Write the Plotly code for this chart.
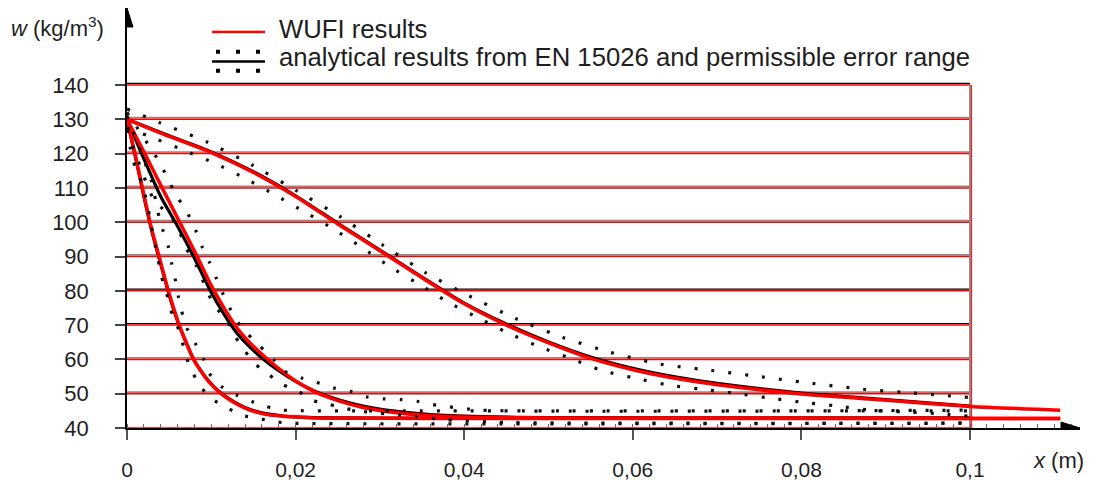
import plotly.graph_objects as go

# ---------------------------------------------------------------------------
# Moisture content profiles w(x): x in m, w in kg/m3
# Three profiles (short, medium, long exposure); for each one the WUFI result,
# the analytical EN 15026 solution and the upper / lower permissible limits.
# ---------------------------------------------------------------------------

# Profile 1 (steepest)
x_wufi_1 = [0, 0.001, 0.002, 0.003, 0.004, 0.005, 0.0062, 0.0071, 0.0079, 0.0088, 0.0098,
            0.011, 0.0125, 0.014, 0.016, 0.0185, 0.0215, 0.026, 0.035, 0.06, 0.1107]
w_wufi_1 = [130, 119.5, 108, 97.3, 88.2, 79.2, 70, 64.5, 60, 56.5, 53.2, 50.3, 47.7, 45.8,
            44.2, 43.4, 43.0, 42.85, 42.8, 42.8, 42.8]
x_an_1 = [0, 0.001, 0.002, 0.003, 0.004, 0.005, 0.0062, 0.0071, 0.0079, 0.0088, 0.0098,
          0.011, 0.0125, 0.014, 0.016, 0.0185, 0.0215, 0.026, 0.035, 0.06, 0.1]
w_an_1 = [130, 119, 107.5, 96.8, 87.8, 78.8, 69.8, 64.4, 60, 56.6, 53.4, 50.5, 47.9, 46.0,
          44.4, 43.5, 43.1, 42.95, 42.9, 42.9, 42.9]
x_up_1 = [0, 0.0029, 0.0038, 0.0043, 0.0049, 0.0053, 0.0057, 0.0061, 0.0065, 0.0071, 0.0081,
          0.0091, 0.0098, 0.0112, 0.0130, 0.0148, 0.0166, 0.0185, 0.03, 0.1]
w_up_1 = [131, 112, 101.5, 97.3, 92.9, 88, 83.6, 78.3, 73.9, 69.1, 64.7, 60, 55.8, 52.1,
          49.6, 47.7, 46.2, 45.2, 45.0, 45.0]
x_lo_1 = [0, 0.0007, 0.0015, 0.0021, 0.0025, 0.0029, 0.0033, 0.0037, 0.0041, 0.0047, 0.0051,
          0.0059, 0.0065, 0.0070, 0.0077, 0.0087, 0.0100, 0.0118, 0.0136, 0.0156, 0.0176,
          0.0195, 0.1]
w_lo_1 = [127, 118, 113.3, 108.4, 104, 98.7, 93.9, 89, 84.1, 79.3, 74.9, 70.3, 65.6, 60.9,
          56.6, 52.1, 48.6, 46.0, 43.7, 42.8, 41.8, 41.4, 41.4]

# Profile 2
x_wufi_2 = [0, 0.002, 0.004, 0.006, 0.008, 0.010, 0.0115, 0.013, 0.0145, 0.016, 0.018, 0.02,
            0.0225, 0.025, 0.028, 0.0315, 0.036, 0.042, 0.05, 0.065, 0.1107]
w_wufi_2 = [130, 120.5, 110.8, 101.2, 91.6, 81.5, 75, 69.3, 65, 61.5, 57.3, 53.7, 50.3, 48.0,
            46.0, 44.6, 43.6, 43.1, 42.9, 42.85, 42.8]
x_an_2 = [0, 0.002, 0.004, 0.006, 0.008, 0.010, 0.0115, 0.013, 0.0145, 0.016, 0.018, 0.02,
          0.0225, 0.025, 0.028, 0.0315, 0.036, 0.042, 0.05, 0.065, 0.1]
w_an_2 = [130, 118.5, 107.5, 98.8, 89.5, 79.5, 73.2, 67.8, 63.8, 60.4, 56.7, 53.6, 50.5,
          48.3, 46.4, 45.0, 43.9, 43.3, 43.0, 42.9, 42.9]
x_up_2 = [0, 0.0035, 0.0045, 0.0055, 0.0074, 0.0082, 0.0089, 0.0098, 0.0106, 0.0114, 0.0122,
          0.0136, 0.0158, 0.0174, 0.0187, 0.0207, 0.0225, 0.0245, 0.0265, 0.0284, 0.0304,
          0.0324, 0.0344, 0.0363, 0.042, 0.1]
w_up_2 = [132, 118.9, 114.4, 109.4, 101.6, 97.3, 92.9, 88.2, 83.6, 79.0, 74.9, 69.2, 63.8,
          59.9, 56.5, 54.6, 53.3, 51.7, 50.7, 49.1, 48.5, 48.3, 47.8, 46.8, 45.2, 45.2]
x_lo_2 = [0, 0.0031, 0.0054, 0.0063, 0.0071, 0.0082, 0.0089, 0.0096, 0.0106, 0.0118, 0.0128,
          0.0140, 0.0153, 0.0169, 0.0185, 0.0203, 0.0221, 0.0241, 0.0261, 0.0280, 0.033,
          0.038, 0.045, 0.1]
w_lo_2 = [127, 107, 100.9, 96.8, 92.1, 87.5, 83.6, 79.3, 74.9, 71.7, 66.8, 62.4, 58.5, 55.4,
          52.6, 50.7, 48.0, 46.8, 45.6, 44.8, 43.6, 42.4, 41.6, 41.4]

# Profile 3 (flattest)
x_wufi_3 = [0, 0.005, 0.01, 0.015, 0.02, 0.025, 0.03, 0.035, 0.04, 0.045, 0.05, 0.055, 0.06,
            0.065, 0.07, 0.08, 0.09, 0.1, 0.1107]
w_wufi_3 = [130, 125, 120.3, 114.5, 107.5, 99.5, 91.7, 83.8, 76.2, 70, 64.8, 60.3, 57, 54.5,
            52.6, 49.9, 48.1, 46.3, 45.2]
x_an_3 = [0, 0.005, 0.01, 0.015, 0.02, 0.025, 0.03, 0.035, 0.04, 0.045, 0.05, 0.055, 0.06,
          0.065, 0.07, 0.08, 0.09, 0.1]
w_an_3 = [130, 125.2, 120.5, 114.7, 107.7, 99.7, 91.9, 84.0, 76.4, 70.3, 65.1, 60.7, 57.4,
          54.9, 53.0, 50.2, 48.3, 46.4]
x_up_3 = [0, 0.0039, 0.0095, 0.0149, 0.0201, 0.0253, 0.0303, 0.0354, 0.0406, 0.0461, 0.0517,
          0.0574, 0.0633, 0.0693, 0.0753, 0.0813, 0.0873, 0.0932, 0.1]
w_up_3 = [133, 129, 123.4, 116.6, 109.2, 101.6, 93.4, 85.3, 78.5, 71.9, 66.4, 62.0, 58.6,
          56.8, 54.9, 53.0, 51.3, 50.2, 48.9]
x_lo_3 = [0, 0.0029, 0.0067, 0.0104, 0.0140, 0.0176, 0.0210, 0.0245, 0.0279, 0.0312, 0.0346,
          0.0380, 0.0416, 0.0451, 0.0489, 0.0526, 0.0564, 0.0603, 0.0643, 0.0682, 0.0722,
          0.0763, 0.0802, 0.0842, 0.0883, 0.0921, 0.0961, 0.1]
w_lo_3 = [127.5, 124.8, 121, 117.2, 112.8, 107.9, 103.1, 98, 92.6, 87, 82, 76.8, 72.2, 67.8,
          63.7, 60.3, 56.7, 54.5, 52.5, 51.3, 50.1, 48.7, 47.5, 46.4, 45.2, 44.7, 44.2, 43.4]

# Axis ticks
x_ticks = [0, 0.02, 0.04, 0.06, 0.08, 0.1]
x_ticktext = ["0", "0,02", "0,04", "0,06", "0,08", "0,1"]
y_ticks = [40, 50, 60, 70, 80, 90, 100, 110, 120, 130, 140]
y_ticktext = [str(v) for v in y_ticks]

legend_wufi = "WUFI results"
legend_analytical = "analytical results from EN 15026 and permissible error range"

# ---------------------------------------------------------------------------
FONT = "Liberation Sans, Arial, sans-serif"
TXT = "#1e1e1e"
RED = "#ff0000"

fig = go.Figure()

profiles = [
    (x_wufi_1, w_wufi_1, x_an_1, w_an_1, x_up_1, w_up_1, x_lo_1, w_lo_1),
    (x_wufi_2, w_wufi_2, x_an_2, w_an_2, x_up_2, w_up_2, x_lo_2, w_lo_2),
    (x_wufi_3, w_wufi_3, x_an_3, w_an_3, x_up_3, w_up_3, x_lo_3, w_lo_3),
]

# analytical solutions (black), below the WUFI curves
for p in profiles:
    fig.add_trace(go.Scatter(x=p[2], y=p[3], mode="lines",
                             line=dict(color="black", width=3.2, shape="spline", smoothing=0.6),
                             hoverinfo="skip"))
# WUFI results (red)
for p in profiles:
    fig.add_trace(go.Scatter(x=p[0], y=p[1], mode="lines",
                             line=dict(color=RED, width=3.5, shape="spline", smoothing=0.6),
                             hoverinfo="skip", cliponaxis=False))
# permissible error range (dotted)
for p in profiles:
    for xs, ws in ((p[4], p[5]), (p[6], p[7])):
        fig.add_trace(go.Scatter(x=xs, y=ws, mode="lines",
                                 line=dict(color="#111111", width=3.2, dash="3px,14px",
                                           shape="spline", smoothing=0.5),
                                 hoverinfo="skip"))

shapes = []
# horizontal grid: red line with a dark line just above it
dark = {140: "#000000", 80: "#000000", 70: "#000000"}
for v in y_ticks:
    if v != y_ticks[0]:
        shapes.append(dict(type="line", xref="x", yref="y", ysizemode="pixel", yanchor=v,
                           x0=0, x1=0.1, y0=1.6, y1=1.6, layer="below",
                           line=dict(color=dark.get(v, "#8a8a8a"), width=1.2 if v in dark else 1.7)))
    shapes.append(dict(type="line", xref="x", yref="y", x0=0, x1=0.1, y0=v, y1=v, layer="below",
                       line=dict(color=RED, width=1.5)))
# right border of the grid at x = 0.1
shapes.append(dict(type="line", xref="x", yref="y", x0=0.1, x1=0.1, y0=40, y1=140, layer="below",
                   line=dict(color="#8a8a8a", width=2)))
shapes.append(dict(type="line", xref="x", yref="y", xsizemode="pixel", xanchor=0.1,
                   x0=1.6, x1=1.6, y0=40, y1=140, layer="below", line=dict(color=RED, width=1)))
# axis arrow heads
shapes.append(dict(type="path", xref="x", yref="paper", xsizemode="pixel", ysizemode="pixel",
                   xanchor=0, yanchor=1, path="M 0 0 L -6 -19 L 6 -19 Z",
                   fillcolor="black", line=dict(color="black", width=1)))
shapes.append(dict(type="path", xref="paper", yref="y", xsizemode="pixel", ysizemode="pixel",
                   xanchor=1, yanchor=40, path="M 0 0 L -19 6 L -19 -6 Z",
                   fillcolor="black", line=dict(color="black", width=1)))

# plot area in page pixels
L, R, T, B = 127, 1080, 8, 428


def px(xp):
    return (xp - L) / (R - L)


def py(yp):
    return (B - yp) / (B - T)


# legend symbols
shapes.append(dict(type="line", xref="paper", yref="paper", x0=px(212), x1=px(265), y0=py(32), y1=py(32),
                   line=dict(color=RED, width=2.6)))
shapes.append(dict(type="line", xref="paper", yref="paper", x0=px(212), x1=px(265), y0=py(61.5), y1=py(61.5),
                   line=dict(color="black", width=2.6)))
for yy in (51.7, 70.7):
    shapes.append(dict(type="line", xref="paper", yref="paper", x0=px(216), x1=px(262), y0=py(yy), y1=py(yy),
                       line=dict(color="black", width=4, dash="4px,16px")))

annotations = [
    dict(text=legend_wufi, xref="paper", yref="paper", x=px(277), y=py(28.5), xanchor="left", yanchor="middle",
         showarrow=False, font=dict(family=FONT, size=25.7, color=TXT)),
    dict(text=legend_analytical, xref="paper", yref="paper", x=px(277), y=py(57), xanchor="left",
         yanchor="middle", showarrow=False, font=dict(family=FONT, size=25.7, color=TXT)),
    dict(text="<i>w</i> (kg/m<sup>3</sup>)", xref="paper", yref="paper", x=px(9), y=py(27), xanchor="left",
         yanchor="middle", showarrow=False, font=dict(family=FONT, size=22, color=TXT)),
    dict(text="<i>x</i> (m)", xref="paper", yref="paper", x=px(1031), y=py(460), xanchor="left",
         yanchor="middle", showarrow=False, font=dict(family=FONT, size=22, color=TXT)),
]

fig.update_layout(
    width=1093, height=488,
    margin=dict(l=L, r=1093 - R, t=T, b=488 - B),
    paper_bgcolor="white", plot_bgcolor="white",
    showlegend=False,
    shapes=shapes, annotations=annotations,
    xaxis=dict(range=[0, (R - L) / 8430.0], showgrid=False, zeroline=False, automargin=False,
               showline=True, linecolor="black", linewidth=1.5,
               tickvals=x_ticks, ticktext=x_ticktext, ticks="outside", ticklen=10, tickwidth=1.5,
               tickcolor="#555555", ticklabelstandoff=12,
               tickfont=dict(family=FONT, size=21, color=TXT),
               minor=dict(dtick=0.002, tick0=0, ticks="inside", ticklen=4, tickcolor="#666666",
                          tickwidth=1, showgrid=False)),
    yaxis=dict(range=[40, 40 + (B - T) / 3.43], showgrid=False, zeroline=False, automargin=False,
               showline=True, linecolor="black", linewidth=1.5,
               tickvals=y_ticks, ticktext=y_ticktext, ticks="outside", ticklen=10, tickwidth=1.5,
               tickcolor="#444444", ticklabelstandoff=22,
               tickfont=dict(family=FONT, size=22, color=TXT)),
)

fig.write_html("out.html")
